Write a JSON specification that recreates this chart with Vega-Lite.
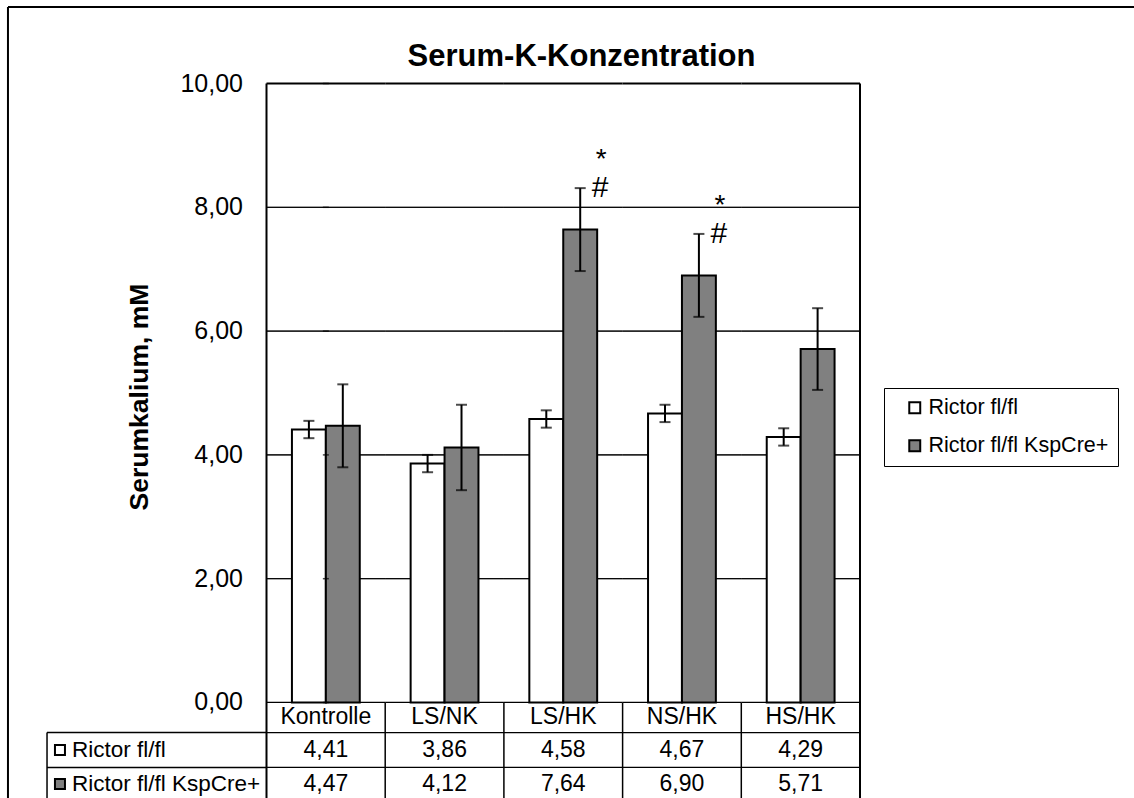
{
  "$schema": "https://vega.github.io/schema/vega-lite/v6.json",
  "width": 1126,
  "height": 791,
  "autosize": {"type": "none"},
  "padding": {"left": 8, "top": 7, "right": 0, "bottom": 0},
  "background": "white",
  "config": {
    "font": "Liberation Sans",
    "locale": {"number": {"decimal": ",", "thousands": ".", "grouping": [3], "currency": ["", " €"]}},
    "view": {"stroke": null}
  },
  "datasets": {
    "serum": [
      {"group": "Kontrolle", "series": "Rictor fl/fl", "mean": 4.41, "lo": 4.27, "hi": 4.55},
      {"group": "Kontrolle", "series": "Rictor fl/fl KspCre+", "mean": 4.47, "lo": 3.80, "hi": 5.14},
      {"group": "LS/NK", "series": "Rictor fl/fl", "mean": 3.86, "lo": 3.72, "hi": 4.00},
      {"group": "LS/NK", "series": "Rictor fl/fl KspCre+", "mean": 4.12, "lo": 3.43, "hi": 4.81},
      {"group": "LS/HK", "series": "Rictor fl/fl", "mean": 4.58, "lo": 4.44, "hi": 4.72},
      {"group": "LS/HK", "series": "Rictor fl/fl KspCre+", "mean": 7.64, "lo": 6.97, "hi": 8.31, "sigHash": "#", "sigStar": "*"},
      {"group": "NS/HK", "series": "Rictor fl/fl", "mean": 4.67, "lo": 4.53, "hi": 4.81},
      {"group": "NS/HK", "series": "Rictor fl/fl KspCre+", "mean": 6.90, "lo": 6.23, "hi": 7.57, "sigHash": "#", "sigStar": "*"},
      {"group": "HS/HK", "series": "Rictor fl/fl", "mean": 4.29, "lo": 4.15, "hi": 4.43},
      {"group": "HS/HK", "series": "Rictor fl/fl KspCre+", "mean": 5.71, "lo": 5.05, "hi": 6.37}
    ],
    "yTicks": [{"v": 0}, {"v": 2}, {"v": 4}, {"v": 6}, {"v": 8}, {"v": 10}],
    "titles": [{"chartTitle": "Serum-K-Konzentration", "yTitle": "Serumkalium, mM"}]
  },
  "data": {"name": "serum"},
  "layer": [
    {
      "transform": [{"filter": "datum.series === 'Rictor fl/fl'"}],
      "layer": [
        {"mark": {"type": "bar", "filled": false, "stroke": "black", "strokeWidth": 1},
         "encoding": {"x": {"field": "group", "type": "nominal", "axis": null}, "y": {"datum": 2, "axis": null}, "y2": {"datum": 2}}},
        {"mark": {"type": "bar", "filled": false, "stroke": "black", "strokeWidth": 1},
         "encoding": {"x": {"field": "group", "type": "nominal", "axis": null}, "y": {"datum": 4, "axis": null}, "y2": {"datum": 4}}},
        {"mark": {"type": "bar", "filled": false, "stroke": "black", "strokeWidth": 1},
         "encoding": {"x": {"field": "group", "type": "nominal", "axis": null}, "y": {"datum": 6, "axis": null}, "y2": {"datum": 6}}},
        {"mark": {"type": "bar", "filled": false, "stroke": "black", "strokeWidth": 1},
         "encoding": {"x": {"field": "group", "type": "nominal", "axis": null}, "y": {"datum": 8, "axis": null}, "y2": {"datum": 8}}},
        {"mark": {"type": "bar", "filled": false, "stroke": "black", "strokeWidth": 2},
         "encoding": {"x": {"field": "group", "type": "nominal", "axis": null}, "y": {"datum": 10, "axis": null}, "y2": {"datum": 10}}},
        {"mark": {"type": "bar", "filled": false, "stroke": "black", "strokeWidth": 1.25},
         "encoding": {"x": {"field": "group", "type": "nominal", "axis": null}, "y": {"datum": 0, "axis": null}, "y2": {"datum": 0}}},
        {"mark": {"type": "bar", "filled": false, "stroke": "black", "strokeWidth": 1.25},
         "encoding": {"x": {"field": "group", "type": "nominal", "axis": null}, "y": {"datum": -0.485, "axis": null}, "y2": {"datum": -0.485}}},
        {"mark": {"type": "bar", "filled": false, "stroke": "black", "strokeWidth": 1.25},
         "encoding": {"x": {"field": "group", "type": "nominal", "axis": null}, "y": {"datum": -1.05, "axis": null}, "y2": {"datum": -1.05}}},
        {"mark": {"type": "rule", "color": "black", "strokeWidth": 1.5},
         "transform": [{"filter": "datum.group !== 'Kontrolle'"}],
         "encoding": {"x": {"field": "group", "type": "nominal", "bandPosition": 0, "axis": null}, "y": {"datum": 0, "axis": null}, "y2": {"datum": -1.543}}}
      ]
    },
    {
      "mark": {"type": "bar", "stroke": "black", "strokeWidth": 2},
      "encoding": {
        "x": {
          "field": "group", "type": "nominal",
          "scale": {"domain": ["Kontrolle", "LS/NK", "LS/HK", "NS/HK", "HS/HK"], "range": [258.5, 852], "paddingInner": 0, "paddingOuter": 0},
          "axis": null
        },
        "xOffset": {
          "field": "series", "type": "nominal",
          "scale": {"domain": ["Rictor fl/fl", "Rictor fl/fl KspCre+"], "paddingInner": 0, "paddingOuter": 0.75}
        },
        "y": {
          "field": "mean", "type": "quantitative",
          "scale": {"domain": [-1.543, 11.236], "nice": false, "zero": false},
          "axis": null
        },
        "y2": {"datum": 0},
        "fill": {
          "field": "series", "type": "nominal",
          "scale": {"domain": ["Rictor fl/fl", "Rictor fl/fl KspCre+"], "range": ["white", "#808080"]},
          "legend": {
            "orient": "none",
            "legendX": 876,
            "legendY": 381,
            "direction": "vertical",
            "title": null,
            "symbolType": "square",
            "symbolSize": 120,
            "symbolStrokeColor": "black",
            "symbolStrokeWidth": 2,
            "labelFontSize": 21.5,
            "labelColor": "black",
            "labelFont": "Liberation Sans",
            "labelLimit": 400,
            "labelOffset": 3,
            "rowPadding": 15,
            "padding": 9,
            "symbolOffset": 11,
            "strokeColor": "black",
            "fillColor": "white"
          }
        }
      }
    },
    {
      "mark": {"type": "rule", "color": "black", "strokeWidth": 2},
      "encoding": {
        "x": {"field": "group", "type": "nominal", "axis": null},
        "xOffset": {"field": "series", "type": "nominal"},
        "y": {"field": "lo", "type": "quantitative", "axis": null},
        "y2": {"field": "hi"}
      }
    },
    {
      "mark": {"type": "tick", "color": "black", "size": 11, "thickness": 2},
      "encoding": {
        "x": {"field": "group", "type": "nominal", "axis": null},
        "xOffset": {"field": "series", "type": "nominal"},
        "y": {"field": "lo", "type": "quantitative", "axis": null}
      }
    },
    {
      "mark": {"type": "tick", "color": "black", "size": 11, "thickness": 2},
      "encoding": {
        "x": {"field": "group", "type": "nominal", "axis": null},
        "xOffset": {"field": "series", "type": "nominal"},
        "y": {"field": "hi", "type": "quantitative", "axis": null}
      }
    },
    {
      "data": {"name": "titles"},
      "layer": [
        {
          "mark": {"type": "rule", "color": "black", "strokeWidth": 2},
          "encoding": {
            "x": {"datum": "Kontrolle", "bandPosition": 0, "axis": null},
            "y": {"datum": 10, "axis": null},
            "y2": {"datum": -1.543}
          }
        },
        {
          "mark": {"type": "rule", "color": "black", "strokeWidth": 2},
          "encoding": {
            "x": {"datum": "HS/HK", "bandPosition": 1, "axis": null},
            "y": {"datum": 10, "axis": null},
            "y2": {"datum": -1.543}
          }
        },
        {
          "mark": {"type": "rule", "color": "black", "strokeWidth": 2},
          "encoding": {"y": {"datum": 11.236, "axis": null}}
        },
        {
          "mark": {"type": "rule", "color": "black", "strokeWidth": 2},
          "encoding": {"x": {"datum": "Kontrolle", "bandPosition": -2.178, "axis": null}}
        },
        {
          "mark": {"type": "rule", "color": "black", "strokeWidth": 1.5},
          "encoding": {
            "x": {"datum": "Kontrolle", "bandPosition": -1.849, "axis": null},
            "y": {"datum": -0.485, "axis": null},
            "y2": {"datum": -1.543}
          }
        },
        {
          "mark": {"type": "point", "shape": "M-1,0L1,0", "size": 48180, "filled": false, "stroke": "black", "strokeWidth": 1.5, "opacity": 1},
          "encoding": {
            "x": {"datum": "Kontrolle", "bandPosition": -0.9246, "axis": null},
            "y": {"datum": -0.485, "axis": null}
          }
        },
        {
          "mark": {"type": "point", "shape": "M-1,0L1,0", "size": 48180, "filled": false, "stroke": "black", "strokeWidth": 1.5, "opacity": 1},
          "encoding": {
            "x": {"datum": "Kontrolle", "bandPosition": -0.9246, "axis": null},
            "y": {"datum": -1.05, "axis": null}
          }
        },
        {
          "mark": {"type": "text", "fontSize": 31, "fontWeight": "bold", "color": "black", "align": "center", "baseline": "alphabetic"},
          "encoding": {
            "x": {"datum": "Kontrolle", "bandPosition": 2.654, "axis": null},
            "y": {"datum": 10.29, "axis": null},
            "text": {"field": "chartTitle", "type": "nominal"}
          }
        },
        {
          "mark": {"type": "text", "fontSize": 26.5, "fontWeight": "bold", "color": "black", "align": "center", "baseline": "middle", "angle": 270},
          "encoding": {
            "x": {"datum": "Kontrolle", "bandPosition": -1.066, "axis": null},
            "y": {"datum": 4.935, "axis": null},
            "text": {"field": "yTitle", "type": "nominal"}
          }
        }
      ]
    },
    {
      "data": {"name": "yTicks"},
      "layer": [
        {
          "mark": {"type": "tick", "color": "black", "size": 6, "thickness": 1.5},
          "encoding": {
            "x": {"datum": "Kontrolle", "bandPosition": -0.0295, "axis": null},
            "y": {"field": "v", "type": "quantitative", "axis": null}
          }
        },
        {
          "mark": {"type": "text", "fontSize": 25, "color": "black", "align": "right", "baseline": "middle"},
          "encoding": {
            "x": {"datum": "Kontrolle", "bandPosition": -0.198, "axis": null},
            "y": {"field": "v", "type": "quantitative", "axis": null},
            "text": {"field": "v", "type": "quantitative", "format": ".2f"}
          }
        }
      ]
    },
    {
      "transform": [{"filter": "datum.series === 'Rictor fl/fl'"}],
      "mark": {"type": "text", "fontSize": 23, "color": "black", "align": "center", "baseline": "middle"},
      "encoding": {
        "x": {"field": "group", "type": "nominal", "axis": null},
        "y": {"datum": -0.234, "axis": null},
        "text": {"field": "group", "type": "nominal"}
      }
    },
    {
      "transform": [{"filter": "datum.series === 'Rictor fl/fl'"}],
      "mark": {"type": "text", "fontSize": 23, "color": "black", "align": "center", "baseline": "middle"},
      "encoding": {
        "x": {"field": "group", "type": "nominal", "axis": null},
        "y": {"datum": -0.767, "axis": null},
        "text": {"field": "mean", "type": "quantitative", "format": ".2f"}
      }
    },
    {
      "transform": [{"filter": "datum.series === 'Rictor fl/fl KspCre+'"}],
      "mark": {"type": "text", "fontSize": 23, "color": "black", "align": "center", "baseline": "middle"},
      "encoding": {
        "x": {"field": "group", "type": "nominal", "axis": null},
        "y": {"datum": -1.317, "axis": null},
        "text": {"field": "mean", "type": "quantitative", "format": ".2f"}
      }
    },
    {
      "transform": [{"filter": "datum.series === 'Rictor fl/fl' && datum.group === 'Kontrolle'"}],
      "layer": [
        {
          "mark": {"type": "text", "fontSize": 22.5, "color": "black", "align": "left", "baseline": "middle"},
          "encoding": {
            "x": {"datum": "Kontrolle", "bandPosition": -1.639, "axis": null},
            "y": {"datum": -0.767, "axis": null},
            "text": {"field": "series", "type": "nominal"}
          }
        },
        {
          "mark": {"type": "point", "shape": "square", "size": 100, "filled": true, "fill": "white", "stroke": "black", "strokeWidth": 2, "opacity": 1},
          "encoding": {
            "x": {"datum": "Kontrolle", "bandPosition": -1.74, "axis": null},
            "y": {"datum": -0.767, "axis": null}
          }
        }
      ]
    },
    {
      "transform": [{"filter": "datum.series === 'Rictor fl/fl KspCre+' && datum.group === 'Kontrolle'"}],
      "layer": [
        {
          "mark": {"type": "text", "fontSize": 22.5, "color": "black", "align": "left", "baseline": "middle"},
          "encoding": {
            "x": {"datum": "Kontrolle", "bandPosition": -1.639, "axis": null},
            "y": {"datum": -1.317, "axis": null},
            "text": {"field": "series", "type": "nominal"}
          }
        },
        {
          "mark": {"type": "point", "shape": "square", "size": 100, "filled": true, "fill": "#808080", "stroke": "black", "strokeWidth": 2, "opacity": 1},
          "encoding": {
            "x": {"datum": "Kontrolle", "bandPosition": -1.74, "axis": null},
            "y": {"datum": -1.317, "axis": null}
          }
        }
      ]
    },
    {
      "transform": [{"filter": "datum.sigHash"}],
      "mark": {"type": "text", "fontSize": 30, "color": "black", "align": "center", "baseline": "middle", "dx": 20},
      "encoding": {
        "x": {"field": "group", "type": "nominal", "axis": null},
        "xOffset": {"field": "series", "type": "nominal"},
        "y": {"field": "hi", "type": "quantitative", "axis": null},
        "text": {"field": "sigHash", "type": "nominal"}
      }
    },
    {
      "transform": [{"filter": "datum.sigStar"}],
      "mark": {"type": "text", "fontSize": 28, "color": "black", "align": "center", "baseline": "middle", "dx": 21, "dy": -28},
      "encoding": {
        "x": {"field": "group", "type": "nominal", "axis": null},
        "xOffset": {"field": "series", "type": "nominal"},
        "y": {"field": "hi", "type": "quantitative", "axis": null},
        "text": {"field": "sigStar", "type": "nominal"}
      }
    }
  ]
}
